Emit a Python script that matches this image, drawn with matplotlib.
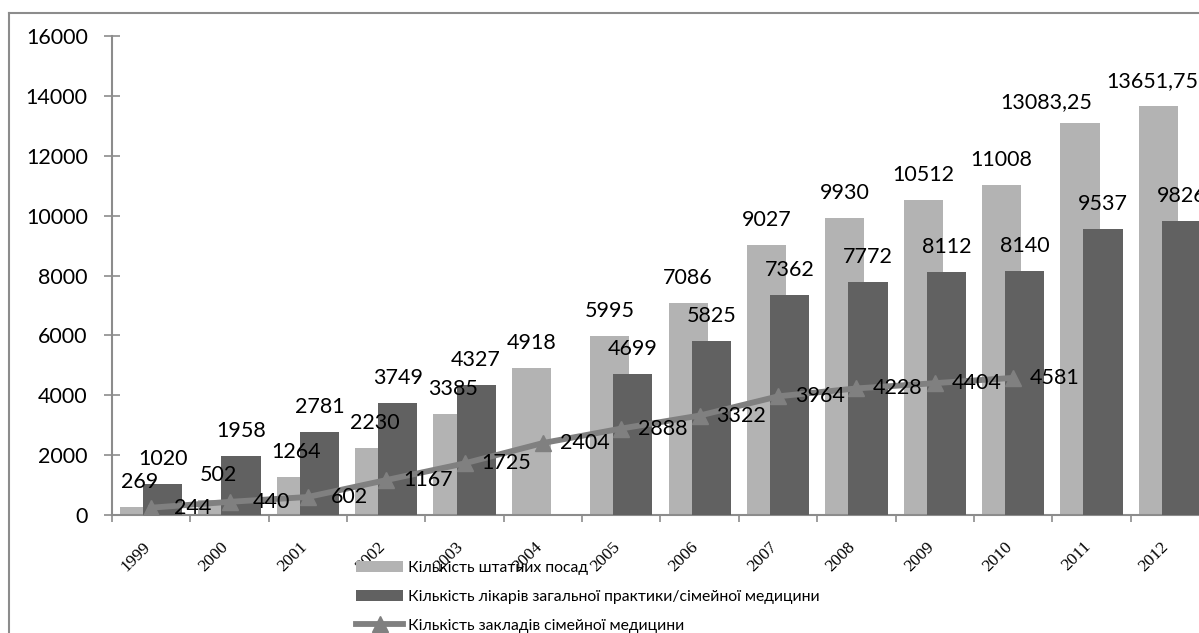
import numpy as np
import matplotlib
matplotlib.use("Agg")
from matplotlib import pyplot as plt
from matplotlib.lines import Line2D

years = ['1999', '2000', '2001', '2002', '2003', '2004', '2005',
         '2006', '2007', '2008', '2009', '2010', '2011', '2012']
posts = [269, 502, 1264, 2230, 3385, 4918, 5995, 7086, 9027, 9930,
         10512, 11008, 13083.25, 13651.75]
doctors = [1020, 1958, 2781, 3749, 4327, np.nan, 4699, 5825, 7362, 7772,
           8112, 8140, 9537, 9826]
clinics = [244, 440, 602, 1167, 1725, 2404, 2888, 3322, 3964, 4228,
           4404, 4581, np.nan, np.nan]

names = ['Кількість штатних посад',
         'Кількість лікарів загальної практики/сімейної медицини',
         'Кількість закладів сімейної медицини']

light = '#b3b3b3'
dark = '#616161'
linec = '#808080'
axc = '#8c8c8c'

plt.rcParams['font.family'] = ['Lato', 'DejaVu Sans']

def fmt(v):
    if float(v).is_integer():
        return str(int(v))
    return repr(float(v)).replace('.', ',')

fig = plt.figure(figsize=(11.99, 6.33), dpi=100)
W, H = 1199, 633
ax = fig.add_axes([112 / W, 118 / H, 1097 / W, 479 / H])

x = np.arange(len(years))
bw = 0.5
off = 0.147
b1 = ax.bar(x - off, posts, bw, color=light, zorder=2)
b2 = ax.bar(x + off, doctors, bw, color=dark, zorder=3)
ln, = ax.plot(x, clinics, color=linec, lw=4.2, marker='^', ms=11,
              markeredgecolor=linec, zorder=4)

fs = 15.5
for i, v in enumerate(posts):
    # long label of 2011 sits further left so it doesn't hit the 2012 one
    dx = -24 if i == 12 else (-4 if i == 13 else 0)
    dy = 15 if i == 12 else 18
    ax.annotate(fmt(v), (x[i] - off, v), xytext=(dx, dy), textcoords='offset points',
                ha='center', va='center', fontsize=fs, zorder=6, annotation_clip=False)
for xi, v in zip(x, doctors):
    if np.isnan(v):
        continue
    ax.annotate(fmt(v), (xi + off, v), xytext=(0, 18), textcoords='offset points',
                ha='center', va='center', fontsize=fs, zorder=6, annotation_clip=False)
for xi, v in zip(x, clinics):
    if np.isnan(v):
        continue
    ax.annotate(fmt(v), (xi, v), xytext=(30, 0), textcoords='offset points',
                ha='center', va='center', fontsize=fs, zorder=6, annotation_clip=False)

ax.set_xlim(-0.5, len(years) - 0.5)
ax.set_ylim(0, 16000)
ax.set_yticks(np.arange(0, 16001, 2000))
ax.tick_params(axis='y', direction='inout', length=11, width=1.2, color=axc,
               labelsize=fs, pad=12)
ax.set_xticks(np.arange(-0.5, len(years), 1))
ax.set_xticklabels([])
ax.tick_params(axis='x', direction='out', length=5, width=1.2, color=axc)

for i, y in enumerate(years):
    ax.annotate(y, (i + 0.03, 0), xycoords=('data', 'data'), xytext=(0, -17),
                textcoords='offset points', rotation=45, ha='right', va='top',
                fontsize=12.5, family='Liberation Serif', annotation_clip=False)

for s in ['top', 'right']:
    ax.spines[s].set_visible(False)
for s in ['left', 'bottom']:
    ax.spines[s].set_color(axc)
    ax.spines[s].set_linewidth(1.5)

leg = fig.legend([b1, b2, ln], names, loc='upper left',
                 bbox_to_anchor=(356 / W, 1 - 561 / H), frameon=False,
                 fontsize=11.3, handlelength=3.0, handletextpad=0.3,
                 labelspacing=0.95, borderpad=0, borderaxespad=0)
leg.set_zorder(7)

# chart border
fig.add_artist(Line2D([9 / W, 9 / W], [0, 1 - 13 / H], color=axc, lw=1.5,
                      transform=fig.transFigure))
fig.add_artist(Line2D([9 / W, 1], [1 - 13 / H, 1 - 13 / H], color=axc, lw=1.5,
                      transform=fig.transFigure))

plt.savefig('out.png', dpi=100)
